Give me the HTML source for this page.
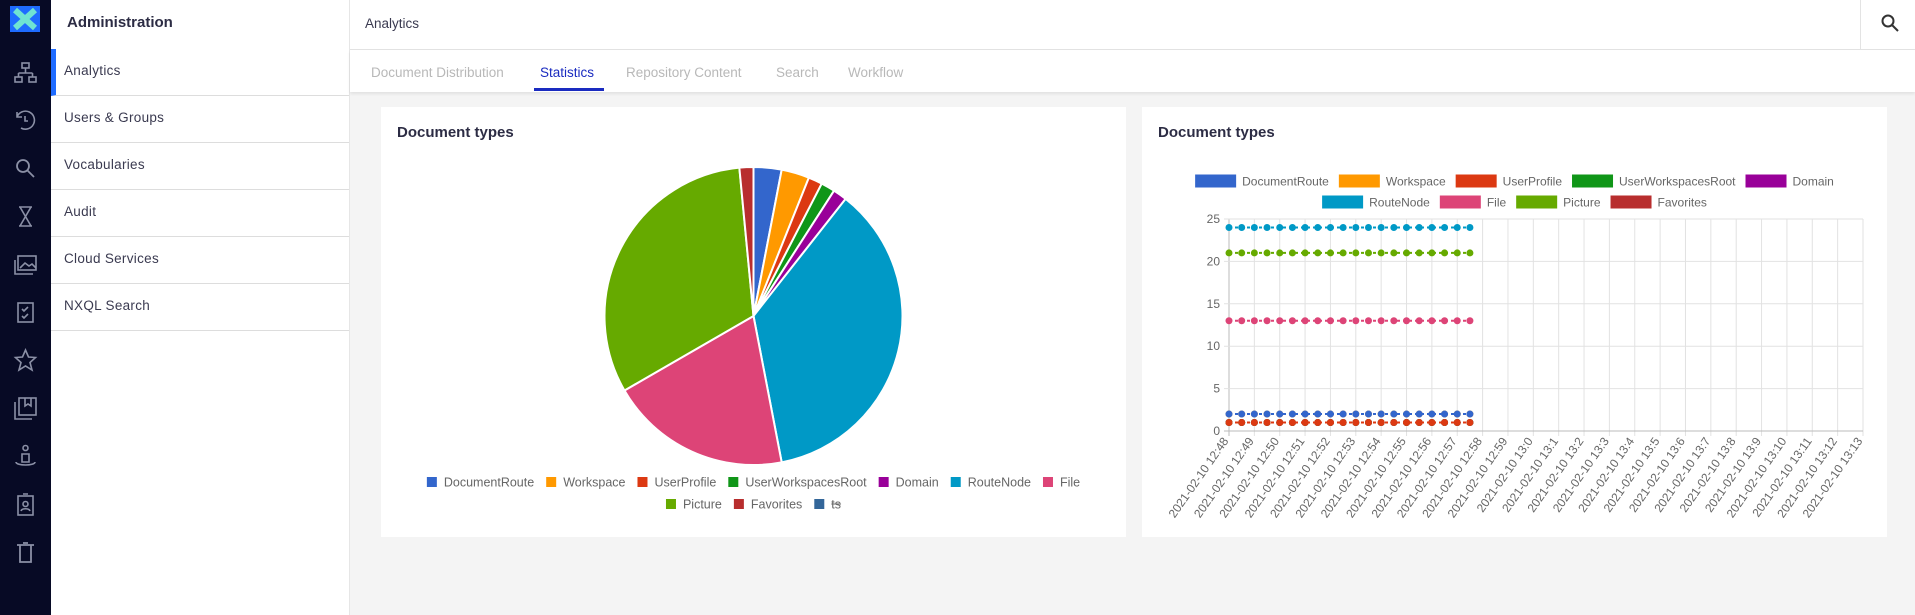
<!DOCTYPE html>
<html><head><meta charset="utf-8">
<style>
*{box-sizing:border-box;margin:0;padding:0}
body{width:1915px;height:615px;overflow:hidden;background:#f4f4f4;font-family:"Liberation Sans",sans-serif;position:relative}
#rail{position:absolute;left:0;top:0;width:51px;height:615px;background:#070a25}
#logo{position:absolute;left:10px;top:6px;width:30px;height:26px;background:#1e6bff}
.ico{position:absolute;left:13px;width:25px;height:25px}
#admin{position:absolute;left:51px;top:0;width:299px;height:615px;background:#fff;border-right:1px solid #e6e6e6}
#admin h1{position:absolute;left:16px;top:14px;font-size:15px;font-weight:bold;color:#2c2c44}
.item{position:absolute;left:0;width:298px;height:47px;border-bottom:1px solid #ddd;font-size:13.5px;color:#3a3a50;padding:14px 0 0 13px;letter-spacing:.3px}
#top{position:absolute;left:350px;top:0;width:1565px;height:50px;background:#fff;border-bottom:1px solid #e3e3e3}
#tabs{position:absolute;left:350px;top:50px;width:1565px;height:42px;background:#fff;box-shadow:0 2px 3px rgba(0,0,0,.08)}
.tab{position:absolute;top:15px;font-size:13.5px;color:#b8b8b8}
.card{position:absolute;top:107px;width:745px;height:430px;background:#fff}
.card h2{position:absolute;left:16px;top:17px;font-size:15px;font-weight:bold;color:#2c2c44}
svg text{font-family:"Liberation Sans",sans-serif}
</style></head><body>
<div id="rail">
 <div id="logo"><svg width="30" height="26"><path d="M5 4 L25 22 M25 4 L5 22" stroke="#6fe3d2" stroke-width="6"/></svg></div>
 <svg class="ico" style="top:61px" viewBox="0 0 25 25" fill="none" stroke="#8b90a6" stroke-width="1.6"><rect x="9" y="2" width="7" height="5"/><rect x="2" y="16" width="7" height="5"/><rect x="16" y="16" width="7" height="5"/><path d="M12.5 7v5M5.5 12h14M5.5 12v4M19.5 12v4"/></svg>
 <svg class="ico" style="top:108px" viewBox="0 0 25 25" fill="none" stroke="#8b90a6" stroke-width="1.6"><path d="M4 9A9 9 0 1 1 8 20M4 4v5h5M12 8v5h3"/></svg>
 <svg class="ico" style="top:156px" viewBox="0 0 25 25" fill="none" stroke="#8b90a6" stroke-width="1.8"><circle cx="10" cy="10" r="6"/><path d="M14.5 14.5L21 21"/></svg>
 <svg class="ico" style="top:204px" viewBox="0 0 25 25" fill="none" stroke="#8b90a6" stroke-width="1.6"><path d="M6 3h13M6 22h13M7 3l11 19M18 3L7 22"/></svg>
 <svg class="ico" style="top:252px" viewBox="0 0 25 25" fill="none" stroke="#8b90a6" stroke-width="1.6"><rect x="5" y="4" width="18" height="14"/><path d="M2 8v14h18M7 16l5-5 4 3 3-2 4 4"/></svg>
 <svg class="ico" style="top:300px" viewBox="0 0 25 25" fill="none" stroke="#8b90a6" stroke-width="1.6"><rect x="5" y="3" width="15" height="19"/><path d="M9 9l2 2 4-4M9 16l2 2 4-4"/></svg>
 <svg class="ico" style="top:348px" viewBox="0 0 25 25" fill="none" stroke="#8b90a6" stroke-width="1.6"><path d="M12.5 2l3 7 7 .5-5.5 5 2 7.5-6.5-4-6.5 4 2-7.5-5.5-5 7-.5z"/></svg>
 <svg class="ico" style="top:396px" viewBox="0 0 25 25" fill="none" stroke="#8b90a6" stroke-width="1.6"><rect x="6" y="2" width="17" height="17"/><path d="M2 6v17h17M12 2v8l3-2 3 2V2"/></svg>
 <svg class="ico" style="top:444px" viewBox="0 0 25 25" fill="none" stroke="#8b90a6" stroke-width="1.6"><circle cx="12.5" cy="4" r="2.5"/><path d="M9 10h7v8H9zM3 18c0 4 19 4 19 0"/></svg>
 <svg class="ico" style="top:492px" viewBox="0 0 25 25" fill="none" stroke="#8b90a6" stroke-width="1.6"><rect x="5" y="4" width="15" height="19"/><circle cx="12.5" cy="12" r="2.5"/><path d="M8 19c1-3 8-3 9 0M10 2h5"/></svg>
 <svg class="ico" style="top:540px" viewBox="0 0 25 25" fill="none" stroke="#8b90a6" stroke-width="1.8"><path d="M4 5h17M7 5v17h11V5M10 3h5"/></svg>
</div>
<div id="admin">
 <h1>Administration</h1>
 <div class="item" style="top:49px;border-left:5px solid #1e6bff;padding-left:8px">Analytics</div>
 <div class="item" style="top:96px">Users &amp; Groups</div>
 <div class="item" style="top:143px">Vocabularies</div>
 <div class="item" style="top:190px">Audit</div>
 <div class="item" style="top:237px">Cloud Services</div>
 <div class="item" style="top:284px">NXQL Search</div>
</div>
<div id="top">
 <div style="position:absolute;left:15px;top:16px;font-size:13.5px;color:#3a3a50">Analytics</div>
 <div style="position:absolute;left:1510px;top:0;width:1px;height:50px;background:#e3e3e3"></div>
 <svg style="position:absolute;left:1530px;top:13px" width="20" height="20" viewBox="0 0 20 20" fill="none" stroke="#333" stroke-width="2"><circle cx="8" cy="8" r="5.5"/><path d="M12 12l6 6"/></svg>
</div>
<div id="tabs">
 <div class="tab" style="left:21px">Document Distribution</div>
 <div class="tab" style="left:190px;color:#1a2bc0">Statistics</div>
 <div style="position:absolute;left:184px;top:38px;width:70px;height:3px;background:#1a2bc0"></div>
 <div class="tab" style="left:276px">Repository Content</div>
 <div class="tab" style="left:426px">Search</div>
 <div class="tab" style="left:498px">Workflow</div>
</div>
<div class="card" style="left:381px">
 <h2>Document types</h2>
 <svg id="pie" width="745" height="430" style="position:absolute;left:0;top:0"></svg>
</div>
<div class="card" style="left:1142px">
 <h2>Document types</h2>
 <svg id="line" width="745" height="430" style="position:absolute;left:0;top:0"></svg>
</div>
<script>
const categories=["DocumentRoute","Workspace","UserProfile","UserWorkspacesRoot","Domain","RouteNode","File","Picture","Favorites"];
const colors=["#3366cc","#ff9900","#dc3912","#109618","#990099","#0099c6","#dd4477","#66aa00","#b82e2e"];
const counts=[2,2,1,1,1,24,13,21,1];
const timeLabels=["2021-02-10 12:48","2021-02-10 12:49","2021-02-10 12:50","2021-02-10 12:51","2021-02-10 12:52","2021-02-10 12:53","2021-02-10 12:54","2021-02-10 12:55","2021-02-10 12:56","2021-02-10 12:57","2021-02-10 12:58","2021-02-10 12:59","2021-02-10 13:0","2021-02-10 13:1","2021-02-10 13:2","2021-02-10 13:3","2021-02-10 13:4","2021-02-10 13:5","2021-02-10 13:6","2021-02-10 13:7","2021-02-10 13:8","2021-02-10 13:9","2021-02-10 13:10","2021-02-10 13:11","2021-02-10 13:12","2021-02-10 13:13"];
const sampleMinutes=[0,0.5,1,1.5,2,2.5,3,3.5,4,4.5,5,5.5,6,6.5,7,7.5,8,8.5,9,9.5];
const yTicks=[0,5,10,15,20,25];
const NS="http://www.w3.org/2000/svg";
function mk(p,t,a){const e=document.createElementNS(NS,t);for(const k in a)e.setAttribute(k,a[k]);p.appendChild(e);return e;}
// PIE
const pie=document.getElementById('pie');
const cx=372.5,cy=209,r=149;
const total=counts.reduce((a,b)=>a+b,0);
let ang=-Math.PI/2;
counts.forEach((v,i)=>{
 const a2=ang+v/total*2*Math.PI;
 const large=(a2-ang)>Math.PI?1:0;
 const p=mk(pie,'path',{d:`M${cx},${cy}L${cx+r*Math.cos(ang)},${cy+r*Math.sin(ang)}A${r},${r} 0 ${large} 1 ${cx+r*Math.cos(a2)},${cy+r*Math.sin(a2)}Z`,fill:colors[i],stroke:'#fff','stroke-width':2});
 
 
 ang=a2;
});
function legendRow(svg,items,y,box,boxW,boxH,gapText,gapItem,fs,prefix){
 const groups=items.map(it=>{
  const g=mk(svg,'g',{});
  
  
  const rc=mk(g,'rect',{width:boxW,height:boxH,fill:it[1]});
  const t=mk(g,'text',{'font-size':fs,fill:'#666'});t.textContent=it[0];
  return {g,rc,t,w:boxW+gapText+t.getComputedTextLength(),name:it[0]};
 });
 const tw=groups.reduce((a,b)=>a+b.w,0)+gapItem*(groups.length-1);
 let x=372.5-tw/2;
 groups.forEach(o=>{
  o.rc.setAttribute('x',x);o.rc.setAttribute('y',y-boxH/2);
  o.t.setAttribute('x',x+boxW+gapText);o.t.setAttribute('y',y+4.3);
  if(o.name==="ts") mk(o.g,'line',{x1:x+boxW+gapText,x2:x+o.w,y1:y,y2:y,stroke:'#666'});
  x+=o.w+gapItem;
 });
}
const pieLeg=[...categories.map((c,i)=>[c,colors[i]]),["ts","#336699"]];
legendRow(pie,pieLeg.slice(0,7),375,true,10,10,7,12,12.5,'pie-legend-');
legendRow(pie,pieLeg.slice(7),397,true,10,10,7,12,12.5,'pie-legend-');
// LINE
const ln=document.getElementById('line');
const L=87,R=721,T=112,B=324;
const xs=m=>L+m*(R-L)/(timeLabels.length-1);
const ys=v=>B-v*(B-T)/25;
timeLabels.forEach((lb,i)=>{
 const x=xs(i);
 mk(ln,'line',{x1:x,x2:x,y1:T,y2:B+5,stroke:i?'#e2e2e2':'#bbb'});
 const t=mk(ln,'text',{x:x,y:B+10,'font-size':12,fill:'#666','text-anchor':'end',transform:`rotate(-55 ${x} ${B+10})`});
 
 
 t.textContent=lb;
});
yTicks.forEach(v=>{
 const y=ys(v);
 mk(ln,'line',{x1:L-5,x2:R,y1:y,y2:y,stroke:v?'#e2e2e2':'#bbb'});
 const t=mk(ln,'text',{x:L-9,y:y+4,'font-size':12,fill:'#666','text-anchor':'end'});
 
 
 t.textContent=v;
});
for(let i=categories.length-1;i>=0;i--){
 const c=categories[i];
 const g=mk(ln,'g',{});
 
 
 const pts=sampleMinutes.map(m=>[xs(m),ys(counts[i])]);
 mk(g,'polyline',{points:pts.map(p=>p.join(',')).join(' '),fill:'none',stroke:colors[i],'stroke-width':2,'stroke-dasharray':'3,3'});
 pts.forEach(p=>mk(g,'circle',{cx:p[0],cy:p[1],r:3.5,fill:colors[i]}));
}
const lineLeg=categories.map((c,i)=>[c,colors[i]]);
legendRow(ln,lineLeg.slice(0,5),74,true,41,13,6,10,12,'line-legend-');
legendRow(ln,lineLeg.slice(5),95,true,41,13,6,10,12,'line-legend-');
</script>
</body></html>
